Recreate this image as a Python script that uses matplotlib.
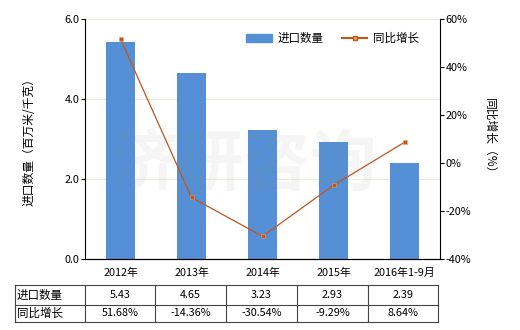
import numpy as np
import matplotlib.pyplot as plt
from matplotlib.lines import Line2D

plt.rcParams['font.family'] = ['Noto Sans CJK SC', 'DejaVu Sans']

# data
years = ['2012年', '2013年', '2014年', '2015年', '2016年1-9月']
qty = [5.43, 4.65, 3.23, 2.93, 2.39]
growth = [51.68, -14.36, -30.54, -9.29, 8.64]
qty_txt = ['5.43', '4.65', '3.23', '2.93', '2.39']
growth_txt = ['51.68%', '-14.36%', '-30.54%', '-9.29%', '8.64%']
row_names = ['进口数量', '同比增长']

bar_c = '#5590D6'
line_c = '#C0561B'
fs = 7.8

fig = plt.figure(figsize=(5.2, 3.3), dpi=100)
W, H = 520., 330.
ax = fig.add_axes([85/W, 1-259/H, 355/W, 240/H])
x = np.arange(len(years))
ax.bar(x, qty, width=0.41, color=bar_c, zorder=2, label='进口数量')
ax.set_xlim(-0.5, len(years)-0.5)
ax.set_ylim(0, 6)
ax.set_yticks([0, 2, 4, 6])
ax.set_yticklabels(['0.0', '2.0', '4.0', '6.0'], fontsize=fs)
ax.set_xticks(x)
ax.set_xticklabels(years, fontsize=fs)
ax.tick_params(axis='x', length=0, pad=6)
ax.tick_params(axis='y', length=3, pad=1)
ax.grid(axis='y', color='#EDEAD8', lw=0.8, zorder=0)
ax.spines['top'].set_visible(False)
ax.spines['right'].set_visible(False)
ax.set_ylabel('进口数量（百万米/千克）', fontsize=fs+0.7, labelpad=21)

ax2 = ax.twinx()
ax2.plot(x, growth, color=line_c, lw=0.9, marker='s', ms=3.5,
	mfc=line_c, mec='#E8A070', mew=0.4, zorder=3, label='同比增长')
ax2.set_ylim(-40, 60)
ax2.set_yticks([-40, -20, 0, 20, 40, 60])
ax2.set_yticklabels(['%d%%' % v for v in [-40, -20, 0, 20, 40, 60]], fontsize=fs)
ax2.tick_params(axis='y', length=3, pad=1)
ax2.spines['top'].set_visible(False)
ax2.spines['left'].set_visible(False)
ax2.set_ylabel('同比增长（%）', fontsize=fs+0.7, rotation=-90, labelpad=18)

# watermark
fig.text(0.47, 0.5, '济研咨询', fontsize=48, color='#888888', alpha=0.08,
	ha='center', va='center', fontweight='bold')

# legend
handles = [plt.Rectangle((0, 0), 1, 1, color=bar_c),
	Line2D([], [], color=line_c, lw=1.5, marker='s', ms=3, mfc='#F0A060', mec=line_c)]
ax.legend(handles, row_names, loc='upper right', bbox_to_anchor=(0.97, 0.99),
	ncol=2, frameon=False, fontsize=fs+0.5, handlelength=2.2, columnspacing=1.6,
	handletextpad=0.5)

# table below the chart
cols = [15, 85, 155, 226, 297, 368, 438]
rows = [285, 305, 322]
tc = '#444444'
for cx in cols:
	fig.add_artist(Line2D([cx/W]*2, [1-rows[0]/H, 1-rows[-1]/H], color=tc, lw=0.8))
for ry in rows:
	fig.add_artist(Line2D([cols[0]/W, cols[-1]/W], [1-ry/H]*2, color=tc, lw=0.8))
for r, vals in enumerate([qty_txt, growth_txt]):
	yc = 1 - (rows[r] + rows[r+1]) / 2 / H
	fig.text((cols[0]+2)/W, yc, row_names[r], fontsize=fs+0.5, va='center', ha='left')
	for i, v in enumerate(vals):
		fig.text((cols[i+1]+cols[i+2])/2/W, yc, v, fontsize=fs, va='center', ha='center')

plt.savefig('out.png', dpi=100)
